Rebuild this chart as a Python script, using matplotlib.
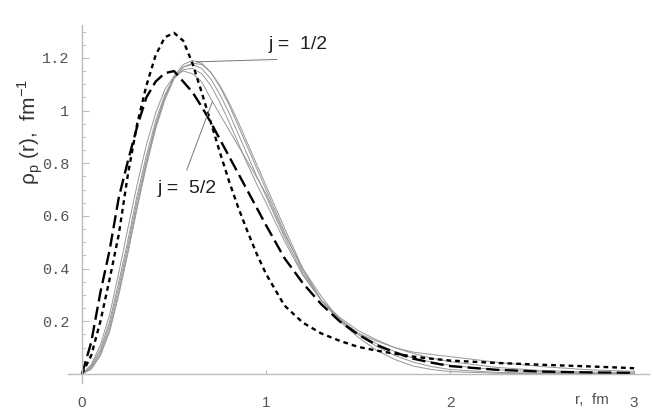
import numpy as np
import matplotlib
matplotlib.use("Agg")
from matplotlib import pyplot as plt

plt.rcParams["mathtext.fontset"] = "custom"
plt.rcParams["mathtext.rm"] = "Liberation Sans"

r = [0, .05, .1, .15, .2, .25, .3, .35, .4, .45, .5, .55, .6, .65, .7, .75, .8, .85, .9, .95,
     1.0, 1.1, 1.2, 1.3, 1.4, 1.5, 1.6, 1.7, 1.8, 1.9, 2.0, 2.25, 2.5, 2.75, 3.0]

# short dashed curve
rho_sd = [0, .07, .2, .36, .53, .76, .95, 1.095, 1.21, 1.278, 1.295, 1.265, 1.18, 1.07, .955, .84, .73, .63, .54, .455,
          .38, .26, .195, .154, .126, .103, .089, .077, .066, .058, .051, .042, .035, .029, .022]
# long dashed curve
rho_ld = [0, .12, .31, .47, .67, .81, .94, 1.05, 1.11, 1.142, 1.15, 1.11, 1.07, 1.015, .955, .89, .825, .76, .695, .63,
          .565, .44, .345, .265, .2, .15, .11, .082, .058, .043, .03, .016, .009, .006, .004]

# thin grey curves, j = 1/2 ... j = 5/2
rho_j = [
    [0, .02, .075, .17, .31, .47, .64, .80, .94, 1.05, 1.13, 1.175, 1.19, 1.18, 1.145, 1.09, 1.02, .94, .86, .78,
     .70, .54, .39, .28, .205, .15, .105, .07, .045, .028, .017, .006, .003, .002, .001],
    [0, .018, .07, .16, .30, .46, .63, .79, .93, 1.04, 1.12, 1.165, 1.18, 1.175, 1.145, 1.095, 1.03, .955, .875, .795,
     .715, .555, .40, .28, .20, .14, .09, .055, .03, .017, .009, .003, .001, 0, 0],
    [0, .025, .085, .185, .33, .49, .66, .81, .945, 1.05, 1.125, 1.165, 1.175, 1.16, 1.12, 1.06, .99, .91, .83, .75,
     .675, .52, .38, .28, .21, .155, .115, .085, .06, .045, .033, .016, .008, .004, .002],
    [0, .03, .095, .2, .35, .51, .68, .83, .96, 1.06, 1.125, 1.155, 1.16, 1.14, 1.095, 1.03, .955, .875, .795, .72,
     .65, .505, .375, .28, .215, .165, .13, .1, .078, .06, .047, .025, .013, .007, .004],
    [0, .035, .11, .225, .385, .555, .72, .87, .99, 1.08, 1.13, 1.15, 1.14, 1.11, 1.045, .985, .925, .865, .805, .745,
     .685, .53, .40, .295, .205, .155, .125, .10, .083, .074, .066, .045, .028, .016, .01],
]

fig = plt.figure(figsize=(6.54, 4.2), dpi=100)
ax = fig.add_axes([0.104, 0.0876, 0.888, 0.853])

for rho in rho_j:
    ax.plot(r, rho, color="#979797", lw=0.7)
ax.plot(r, rho_ld, color="black", lw=1.7, dashes=(5.6, 2.3))
ax.plot(r, rho_sd, color="black", lw=1.7, dashes=(2.0, 1.7))

# labels for the j curves
ax.plot([0.623, 1.058], [1.185, 1.194], color="#777777", lw=0.7)
ax.text(1.016, 1.249, "j =  1/2", fontsize=14, family="Liberation Sans", va="center", color="#222222")
ax.plot([0.569, 0.708], [0.774, 1.033], color="#777777", lw=0.7)
ax.text(0.413, 0.706, "j =  5/2", fontsize=14, family="Liberation Sans", va="center", color="#222222")

ax.set_xlim(-0.076, 3.08)
ax.set_ylim(-0.035, 1.325)
for s in ["top", "right"]:
    ax.spines[s].set_visible(False)
ax.spines["left"].set_position(("data", 0))
ax.spines["bottom"].set_position(("data", 0))
for s in ["left", "bottom"]:
    ax.spines[s].set_color("#bbbbbb")
    ax.spines[s].set_linewidth(1.0)

ax.set_yticks([0.2, 0.4, 0.6, 0.8, 1.0, 1.2])
ax.set_yticklabels(["0.2", "0.4", "0.6", "0.8", "1", "1.2"], family="Liberation Mono", fontsize=11, color="#555555")
ax.set_yticks(np.arange(0.05, 1.31, 0.05), minor=True)
ax.set_xticks([0, 1, 2, 3])
ax.set_xticklabels(["0", "1", "2", "3"], family="Liberation Sans", fontsize=11, color="#555555")
ax.tick_params(axis="y", which="major", direction="in", length=5, color="#bbbbbb", pad=9)
ax.tick_params(axis="y", which="minor", direction="in", length=3, color="#bbbbbb")
ax.tick_params(axis="x", which="major", direction="in", length=3, color="#bbbbbb", pad=16)

ax.text(2.77, -0.099, "r,  fm", fontsize=11, family="Liberation Sans", ha="center", va="center",
        color="#555555", clip_on=False)
fig.text(0.046, 0.685, r"ρ$_{\rm p}$ (r),  fm$^{-1}$", rotation=90, fontsize=15, family="Liberation Sans",
         ha="center", va="center", color="#333333")

fig.savefig("out.png", dpi=100)
